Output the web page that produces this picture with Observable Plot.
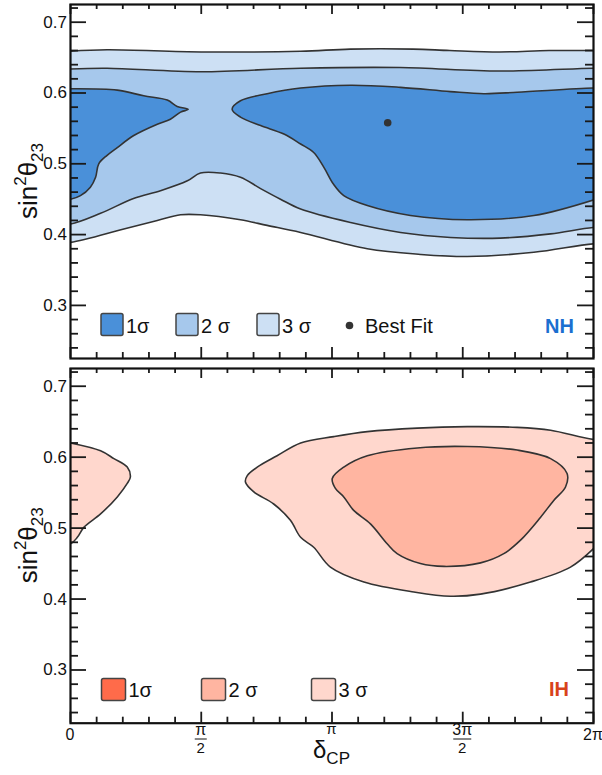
<!DOCTYPE html>
<html><head><meta charset="utf-8">
<script src="https://cdn.jsdelivr.net/npm/d3@7"></script>
<script src="https://cdn.jsdelivr.net/npm/@observablehq/plot@0.6"></script>
<style>body{margin:0;background:#fff;} #chart svg{display:block;}</style>
</head><body><div id="chart"></div>
<script>
// ---- data (x = δCP in units of π, y = sin²θ23) ----
const xMajorTicks = [0, 0.5, 1, 1.5, 2];
const xMinorTicks = [0.1,0.2,0.3,0.4,0.6,0.7,0.8,0.9,1.1,1.2,1.3,1.4,1.6,1.7,1.8,1.9];
const yMajorTicks = [0.3, 0.4, 0.5, 0.6, 0.7];
const yMinorTicks = [0.24,0.26,0.28,0.32,0.34,0.36,0.38,0.42,0.44,0.46,0.48,0.52,0.54,0.56,0.58,0.62,0.64,0.66,0.68,0.72];
const sigmaLabels = ["1σ", "2 σ", "3 σ"];

// NH contours
const nh3Upper = [[0,0.659],[0.14,0.661],[0.5,0.658],[0.88,0.659],[1.07,0.662],[1.31,0.662],[1.45,0.660],[1.64,0.658],[1.83,0.660],[2,0.660]];
const nh3Lower = [[0,0.389],[0.204,0.408],[0.332,0.420],[0.421,0.428],[0.497,0.428],[0.65,0.421],[0.752,0.413],[0.88,0.403],[1.135,0.380],[1.338,0.372],[1.517,0.369],[1.772,0.375],[2,0.387]];
const nh2Upper = [[0,0.634],[0.14,0.635],[0.5,0.630],[0.88,0.635],[1.26,0.636],[1.64,0.631],[2,0.635]];
const nh2Lower = [[0,0.415],[0.115,0.430],[0.241,0.451],[0.344,0.462],[0.447,0.476],[0.497,0.487],[0.574,0.487],[0.65,0.481],[0.727,0.465],[0.803,0.450],[0.88,0.436],[1.071,0.417],[1.262,0.403],[1.453,0.396],[1.644,0.395],[1.836,0.401],[2,0.410]];
const nh1Left = [[0,0.606],[0.179,0.604],[0.28,0.596],[0.37,0.590],[0.408,0.581],[0.45,0.577],[0.421,0.573],[0.382,0.563],[0.332,0.556],[0.242,0.540],[0.179,0.523],[0.14,0.512],[0.108,0.500],[0.096,0.481],[0.076,0.467],[0.038,0.455],[0,0.450]];
const nh1Right = [[2,0.449],[1.772,0.427],[1.517,0.421],[1.300,0.427],[1.135,0.441],[1.045,0.455],[1.006,0.471],[0.969,0.495],[0.930,0.516],[0.88,0.528],[0.816,0.542],[0.727,0.554],[0.65,0.566],[0.618,0.577],[0.65,0.589],[0.752,0.599],[0.88,0.607],[1.071,0.611],[1.262,0.608],[1.453,0.602],[1.581,0.599],[1.708,0.601],[2,0.607]];
const nhBestFit = [[1.213, 0.558]];

// IH contours
const ih3Left = [[0,0.620],[0.115,0.609],[0.166,0.598],[0.217,0.586],[0.229,0.572],[0.217,0.563],[0.179,0.544],[0.115,0.520],[0.051,0.501],[0.026,0.487],[0,0.478]];
const ih3Right = [[2,0.471],[1.912,0.445],[1.759,0.424],[1.568,0.407],[1.453,0.404],[1.313,0.410],[1.122,0.424],[0.994,0.445],[0.93,0.473],[0.88,0.487],[0.841,0.511],[0.777,0.534],[0.701,0.551],[0.669,0.565],[0.676,0.574],[0.714,0.586],[0.79,0.602],[0.88,0.620],[1.007,0.629],[1.135,0.636],[1.326,0.641],[1.517,0.643],[1.708,0.642],[1.836,0.638],[2,0.625]];
const ih2 = [[1.001,0.570],[1.045,0.586],[1.135,0.602],[1.326,0.613],[1.517,0.615],[1.708,0.610],[1.836,0.598],[1.899,0.577],[1.893,0.558],[1.848,0.539],[1.797,0.515],[1.721,0.483],[1.657,0.464],[1.568,0.451],[1.428,0.446],[1.338,0.450],[1.249,0.464],[1.211,0.478],[1.147,0.506],[1.083,0.525],[1.045,0.544],[1.013,0.556]];

const nhColors = ["#4a90d9", "#a6c8ec", "#cde0f4"];
const ihColors = ["#ff6b4a", "#ffb5a1", "#ffd7cd"];

// ---- helpers ----
const FONT = "'Liberation Sans', Arial, Helvetica, sans-serif";
const W = 602, ML = 70, MR = 9;
const band = (up, lo) => [...up, ...lo.slice().reverse()];
// push polygon edges lying on the frame (x = 0 or 2π) just outside it, so smoothing is clipped away
function pad(pts) {
  const out = [];
  pts.forEach((p, i) => {
    out.push(p);
    const q = pts[(i + 1) % pts.length];
    if (p[0] === q[0] && (p[0] === 0 || p[0] === 2)) {
      const e = p[0] === 0 ? -0.08 : 2.08;
      out.push([e, p[1]], [e, q[1]]);
    }
  });
  return out;
}

function panel({height, marginTop, marginBottom, regions, extra = []}) {
  const innerW = W - ML - MR, innerH = height - marginTop - marginBottom;
  const tk = {stroke: "#1a1a1a", strokeWidth: 1.8};
  return Plot.plot({
    width: W, height, marginLeft: ML, marginRight: MR, marginTop, marginBottom,
    style: {fontFamily: FONT, fontSize: "17px", color: "#111", background: "#fff"},
    x: {domain: [0, 2], axis: null},
    y: {domain: [0.225, 0.725]},
    marks: [
      ...regions.map(r => Plot.line(r.closed ? r.pts : pad(r.pts), {
        x: d => d[0], y: d => d[1], fill: r.fill, stroke: "#333", strokeWidth: 1.6,
        curve: r.closed ? "catmull-rom-closed" : "catmull-rom", clip: true
      })),
      ...extra,
      Plot.tickY(yMajorTicks, {y: d => d, insetRight: innerW - 16, ...tk}),
      Plot.tickY(yMinorTicks, {y: d => d, insetRight: innerW - 8, ...tk}),
      Plot.tickY(yMajorTicks, {y: d => d, insetLeft: innerW - 16, ...tk}),
      Plot.tickY(yMinorTicks, {y: d => d, insetLeft: innerW - 8, ...tk}),
      Plot.tickX(xMajorTicks, {x: d => d, insetTop: innerH - 11, ...tk}),
      Plot.tickX(xMinorTicks, {x: d => d, insetTop: innerH - 6, ...tk}),
      Plot.tickX(xMajorTicks, {x: d => d, insetBottom: innerH - 10, ...tk}),
      Plot.tickX(xMinorTicks, {x: d => d, insetBottom: innerH - 5, ...tk}),
      Plot.axisY(yMajorTicks, {anchor: "left", tickSize: 0, tickPadding: 3.5, tickFormat: d3.format(".1f"), fontSize: 17, label: null}),
      Plot.frame({stroke: "#111", strokeWidth: 2.2})
    ]
  });
}

function txt(sel, {x, y, size, anchor = "start", weight = "normal", fill = "#111"}) {
  return sel.append("text").attr("x", x).attr("y", y)
    .style("font-family", FONT).style("font-size", size + "px").style("font-weight", weight)
    .style("text-anchor", anchor).style("fill", fill);
}

function addYLabel(svg, cy) {
  const t = d3.select(svg).append("text")
    .attr("transform", `translate(37,${cy}) rotate(-90)`)
    .style("text-anchor", "middle").style("font-family", FONT).style("font-size", "26px").style("fill", "#111");
  t.append("tspan").text("sin");
  t.append("tspan").attr("dy", -11).style("font-size", "17px").text("2");
  t.append("tspan").attr("dy", 11).text("θ");
  t.append("tspan").attr("dy", 6).style("font-size", "17px").text("23");
}

function addLegend(svg, items, colors, swY, baseY, swW) {
  const g = d3.select(svg).append("g");
  items.forEach((sx, i) => {
    g.append("rect").attr("x", sx).attr("y", swY).attr("width", swW).attr("height", 22).attr("rx", 2)
      .attr("fill", colors[i]).attr("stroke", "#444").attr("stroke-width", 1.5);
    txt(g, {x: sx + swW + 3, y: baseY, size: 20}).text(sigmaLabels[i]);
  });
  return g;
}

const root = document.getElementById("chart");

// ---- NH panel ----
const nh = panel({
  height: 362, marginTop: 4, marginBottom: 4,
  regions: [
    {pts: band(nh3Upper, nh3Lower), fill: nhColors[2]},
    {pts: band(nh2Upper, nh2Lower), fill: nhColors[1]},
    {pts: nh1Left, fill: nhColors[0]},
    {pts: nh1Right, fill: nhColors[0]}
  ],
  extra: [Plot.dot(nhBestFit, {x: d => d[0], y: d => d[1], r: 3.8, fill: "#333", stroke: "none"})]
});
root.appendChild(nh);
addYLabel(nh, 181);
const gNH = addLegend(nh, [101, 176, 257], nhColors, 313.5, 332.5, 22);
gNH.append("circle").attr("cx", 349.5).attr("cy", 325.5).attr("r", 3.8).attr("fill", "#333");
txt(gNH, {x: 365, y: 332.5, size: 20}).text("Best Fit");
txt(gNH, {x: 574, y: 332.5, size: 20, anchor: "end", weight: "bold", fill: "#1b6fd0"}).text("NH");

// ---- IH panel ----
const ih = panel({
  height: 413, marginTop: 6, marginBottom: 52.3,
  regions: [
    {pts: ih3Left, fill: ihColors[2]},
    {pts: ih3Right, fill: ihColors[2]},
    {pts: ih2, fill: ihColors[1], closed: true}
  ]
});
root.appendChild(ih);
addYLabel(ih, 183.3);
const gIH = addLegend(ih, [101.5, 201.5, 311.5], ihColors, 316.5, 334.5, 24);
txt(gIH, {x: 569, y: 334, size: 20, anchor: "end", weight: "bold", fill: "#d8431b"}).text("IH");

// x tick labels and title on IH panel
const xs = ih.scale("x");
const gx = d3.select(ih).append("g");
txt(gx, {x: xs.apply(0), y: 378, size: 16, anchor: "middle"}).text("0");
txt(gx, {x: xs.apply(2), y: 378, size: 16, anchor: "middle"}).text("2π");
txt(gx, {x: xs.apply(1), y: 372, size: 15, anchor: "middle"}).text("π");
[[0.5, "π"], [1.5, "3π"]].forEach(([v, num]) => {
  const cx = xs.apply(v);
  const hw = num.length > 1 ? 9 : 6;
  txt(gx, {x: cx, y: 373, size: 16, anchor: "middle"}).text(num);
  gx.append("line").attr("x1", cx - hw).attr("x2", cx + hw)
    .attr("y1", 377).attr("y2", 377).attr("stroke", "#111").attr("stroke-width", 1);
  txt(gx, {x: cx, y: 391, size: 15, anchor: "middle"}).text("2");
});
const tl = txt(gx, {x: xs.apply(1), y: 396, size: 24, anchor: "middle"});
tl.append("tspan").text("δ");
tl.append("tspan").attr("dy", 6).style("font-size", "17px").text("CP");
</script></body></html>
